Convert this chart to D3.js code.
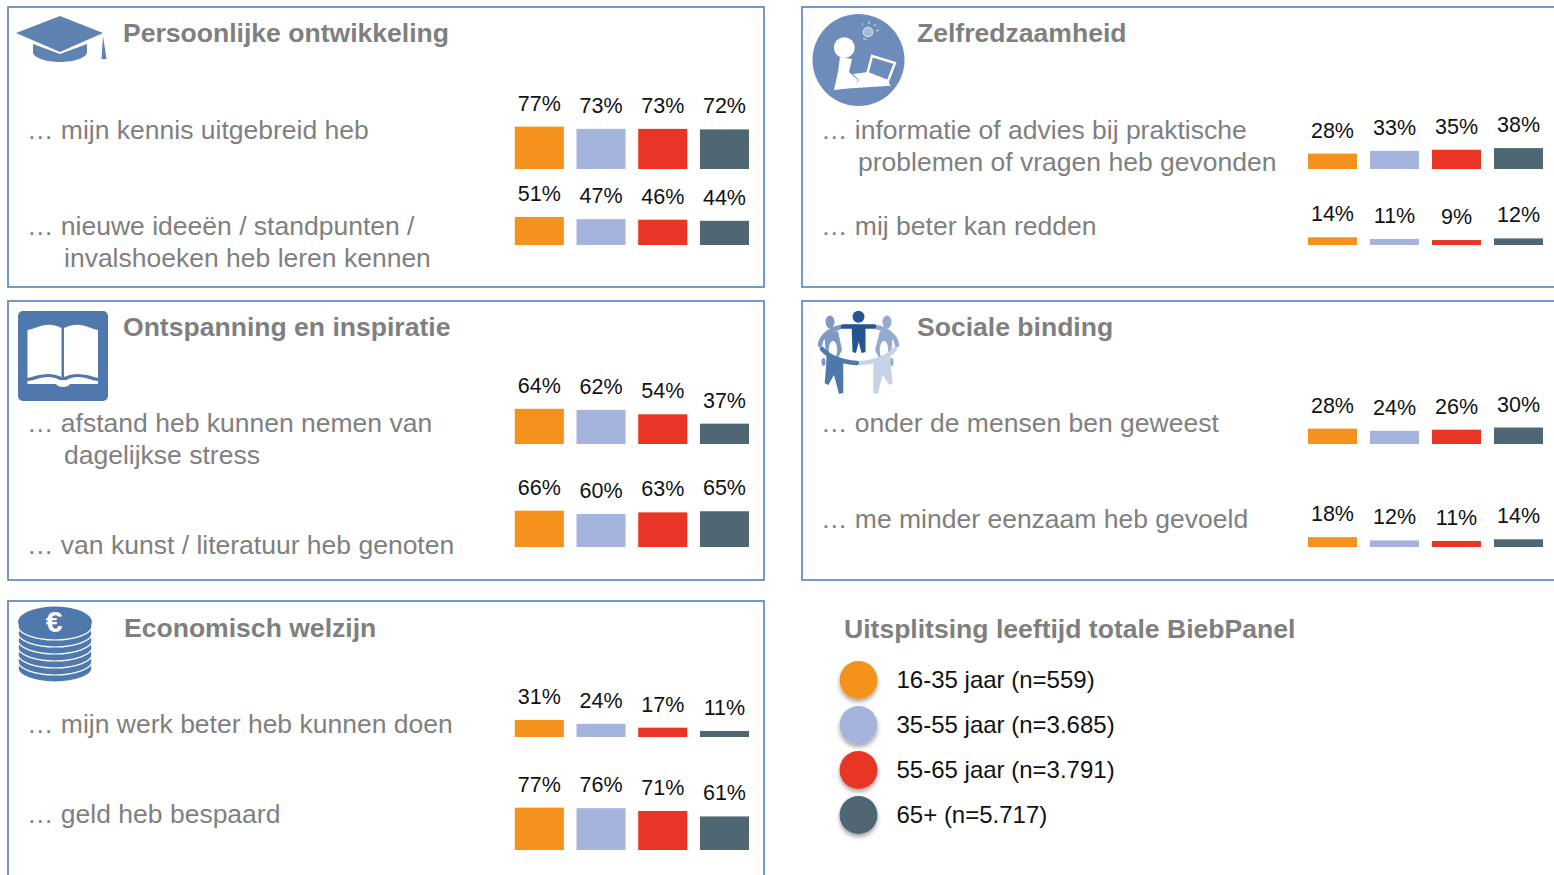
<!DOCTYPE html>
<html>
<head>
<meta charset="utf-8">
<script src="https://cdn.jsdelivr.net/npm/d3@7"></script>
<style>
html, body { margin:0; padding:0; background:#fff; overflow:hidden; }
text { font-family:"Liberation Sans", Arial, sans-serif; }
</style>
</head>
<body>
<script>
// age groups + colours
const ageGroups = ["16-35 jaar", "35-55 jaar", "55-65 jaar", "65+"];
const legendLabels = ["16-35 jaar (n=559)", "35-55 jaar (n=3.685)", "55-65 jaar (n=3.791)", "65+ (n=5.717)"];
const ageColors = ["#f5921e", "#a5b4dc", "#e93526", "#4f6673"];

const titles = ["Persoonlijke ontwikkeling", "Ontspanning en inspiratie", "Economisch welzijn", "Zelfredzaamheid", "Sociale binding"];
const legendTitle = "Uitsplitsing leeftijd totale BiebPanel";

// values per row, in order of age group
const kennis = [77, 73, 73, 72];
const ideeen = [51, 47, 46, 44];
const stress = [64, 62, 54, 37];
const kunst = [66, 60, 63, 65];
const werk = [31, 24, 17, 11];
const geld = [77, 76, 71, 61];
const advies = [28, 33, 35, 38];
const redden = [14, 11, 9, 12];
const mensen = [28, 24, 26, 30];
const eenzaam = [18, 12, 11, 14];

const rowTexts = [
    ["… mijn kennis uitgebreid heb"],
    ["… nieuwe ideeën / standpunten /", "invalshoeken heb leren kennen"],
    ["… afstand heb kunnen nemen van", "dagelijkse stress"],
    ["… van kunst / literatuur heb genoten"],
    ["… mijn werk beter heb kunnen doen"],
    ["… geld heb bespaard"],
    ["… informatie of advies bij praktische", "problemen of vragen heb gevonden"],
    ["… mij beter kan redden"],
    ["… onder de mensen ben geweest"],
    ["… me minder eenzaam heb gevoeld"]
];
const rowValues = [kennis, ideeen, stress, kunst, werk, geld, advies, redden, mensen, eenzaam];

const width = 1554, height = 875;
const svg = d3.select("body").append("svg").attr("width", width).attr("height", height).style("display", "block");

const defs = svg.append("defs");
const shadow = defs.append("filter").attr("id", "shadow").attr("x", "-30%").attr("y", "-30%").attr("width", "160%").attr("height", "170%");
shadow.append("feDropShadow").attr("dx", 0).attr("dy", 3).attr("stdDeviation", 2).attr("flood-color", "#000").attr("flood-opacity", 0.35);

// layout: each box, title position
const boxes = [
    {x:8, y:7, w:756, h:280, titleX:123, titleY:42},
    {x:8, y:301, w:756, h:279, titleX:123, titleY:336},
    {x:8, y:601, w:756, h:290, titleX:124, titleY:637},
    {x:802, y:7, w:770, h:280, titleX:917, titleY:42},
    {x:802, y:301, w:770, h:279, titleX:917, titleY:336}
];
boxes.forEach((b, i) => {
    svg.append("rect").attr("x", b.x).attr("y", b.y).attr("width", b.w).attr("height", b.h)
        .attr("fill", "none").attr("stroke", "#4f81bd").attr("stroke-width", 1.6);
    svg.append("text").attr("x", b.titleX).attr("y", b.titleY)
        .attr("font-size", 26.55).attr("font-weight", "bold").attr("fill", "#7f7f7f").text(titles[i]);
});

// one scale per column of boxes, one shared height scale
const xLeft = d3.scaleBand().domain(ageGroups).range([514.8, 749]).paddingInner(0.205);
const xRight = d3.scaleBand().domain(ageGroups).range([1308, 1543]).paddingInner(0.21);
const barLength = d3.scaleLinear().domain([0, 100]).range([0, 55]);

// baseline of the bars and text lines per row
const rowLayout = [
    {base:169, textX:27, indentX:64, lines:[139]},
    {base:245, textX:27, indentX:64, lines:[235, 267]},
    {base:444, textX:27, indentX:64, lines:[432, 464]},
    {base:547, textX:27, indentX:64, lines:[554]},
    {base:737, textX:27, indentX:64, lines:[733]},
    {base:850, textX:27, indentX:64, lines:[823]},
    {base:169, textX:821, indentX:858, lines:[139, 171]},
    {base:245, textX:821, indentX:858, lines:[235]},
    {base:444, textX:821, indentX:858, lines:[432]},
    {base:547, textX:821, indentX:858, lines:[528]}
];

rowValues.forEach((values, r) => {
    const lay = rowLayout[r];
    const x = r < 6 ? xLeft : xRight;
    const g = svg.append("g");

    g.selectAll("rect").data(values).enter().append("rect")
        .attr("x", (d, i) => x(ageGroups[i]))
        .attr("y", d => lay.base - barLength(d))
        .attr("width", x.bandwidth())
        .attr("height", d => barLength(d))
        .attr("fill", (d, i) => ageColors[i]);

    g.selectAll("text").data(values).enter().append("text")
        .attr("x", (d, i) => x(ageGroups[i]) + x.bandwidth() / 2)
        .attr("y", d => lay.base - barLength(d) - 16)
        .attr("text-anchor", "middle")
        .attr("font-size", 21.5)
        .attr("fill", "#111")
        .text(d => d + "%");

    rowTexts[r].forEach((line, j) => {
        svg.append("text").attr("x", j == 0 ? lay.textX : lay.indentX).attr("y", lay.lines[j])
            .attr("font-size", 26.5).attr("fill", "#808080").text(line);
    });
});

// legend
svg.append("text").attr("x", 844).attr("y", 638).attr("font-size", 26.55).attr("font-weight", "bold")
    .attr("fill", "#7f7f7f").text(legendTitle);
const legendY = d3.scalePoint().domain(ageGroups).range([680, 815]);
svg.selectAll(".legend-dot").data(ageGroups).enter().append("circle")
    .attr("class", "legend-dot")
    .attr("cx", 858.5).attr("cy", d => legendY(d)).attr("r", 19)
    .attr("fill", (d, i) => ageColors[i])
    .attr("filter", "url(#shadow)");
svg.selectAll(".legend-label").data(legendLabels).enter().append("text")
    .attr("class", "legend-label")
    .attr("x", 896.5).attr("y", (d, i) => legendY(ageGroups[i]) + 8)
    .attr("font-size", 24).attr("fill", "#111").text(d => d);

// icons
// graduation cap
const cap = svg.append("g").attr("fill", "#5e83b1");
cap.append("path").attr("d", "M33,44 L33,52 C33,58 47,62 60,62 C73,62 87,58 87,52 L87,44 L60,54 Z");
cap.append("path").attr("d", "M16,33 L60,16 L103,33 L60,52 Z");
cap.append("path").attr("d", "M103,36 L106.5,59 L101.5,59 Z");

// open book
const book = svg.append("g");
book.append("rect").attr("x", 18).attr("y", 311).attr("width", 90).attr("height", 90).attr("rx", 5).attr("fill", "#4f79ad");
book.append("path").attr("fill", "#fff")
    .attr("d", "M27.5,330 C36,329 46,320 61.5,328 L61.5,377 C50,371 38,375 27.5,378 Z M64,328 C80,320 90,329 98,330 L98,378 C88,375 76,371 64,377 Z");
book.append("path").attr("fill", "#fff")
    .attr("d", "M27.5,381 C37,380 48,373 60,380 L66,380 C78,373 89,380 98,381 L98,384 L70,384 C68,388 58,388 56,384 L27.5,384 Z");

// coins
const coinYs = d3.range(7).map(i => 668 - i * 7);
const coins = svg.append("g");
coins.selectAll("ellipse").data(coinYs).enter().append("ellipse")
    .attr("cx", 55).attr("cy", d => d).attr("rx", 37).attr("ry", 14)
    .attr("fill", "#4f79ad").attr("stroke", "#fff").attr("stroke-width", 1.2);
coins.append("ellipse").attr("cx", 55).attr("cy", 622).attr("rx", 37).attr("ry", 15.5).attr("fill", "#4f79ad");
coins.append("text").attr("x", 54).attr("y", 632).attr("text-anchor", "middle")
    .attr("font-size", 30).attr("font-weight", "bold").attr("fill", "#fff").text("€");

// person with laptop
const self = svg.append("g");
self.append("circle").attr("cx", 858.5).attr("cy", 60).attr("r", 46).attr("fill", "#6e8cba");
self.append("circle").attr("cx", 844.3).attr("cy", 47.7).attr("r", 10.4).attr("fill", "#fff");
self.append("path").attr("fill", "#fff").attr("d", "M840,57 L852,59 L849,72 L858,80 L853,88 L834,90 L838,72 Z");
self.append("path").attr("fill", "#fff").attr("d", "M853,74 L868,72 L888,80.7 L890.7,85.7 L851.3,88.3 L859,80 Z");
self.append("path").attr("fill", "#6e8cba").attr("stroke", "#fff").attr("stroke-width", 2.4)
    .attr("d", "M872,56 L895,63 L888,81 L867.5,73 Z");
self.append("circle").attr("cx", 868).attr("cy", 32).attr("r", 4.8).attr("fill", "#a9bbd6").attr("stroke", "#dfe6f0");
self.append("path").attr("stroke", "#dfe6f0").attr("stroke-width", 1).attr("fill", "none")
    .attr("d", "M863,38 L867,40 M862,23 L863,25 M869,21 L869,24 M876,24 L874,26 M879,30 L876,31");

// people in a circle
const people = svg.append("g");
const ring = (d, color) => people.append("path").attr("d", d).attr("fill", "none").attr("stroke", color)
    .attr("stroke-width", 4.5).attr("stroke-linecap", "round");
// figures at the back
people.append("ellipse").attr("cx", 830).attr("cy", 322).attr("rx", 4.5).attr("ry", 6.5).attr("fill", "#7d9ac2");
people.append("ellipse").attr("cx", 887).attr("cy", 322).attr("rx", 4.5).attr("ry", 6.5).attr("fill", "#93abce");
people.append("path").attr("fill", "#7d9ac2").attr("d", "M824,333 L838,331 L842,350 L836,362 L826,355 Z");
people.append("path").attr("fill", "#93abce").attr("d", "M893,333 L880,331 L875,350 L881,362 L891,355 Z");
people.append("ellipse").attr("cx", 833).attr("cy", 350).attr("rx", 5).attr("ry", 10).attr("fill", "#fff").attr("stroke", "#7d9ac2").attr("stroke-width", 1.5);
people.append("ellipse").attr("cx", 884).attr("cy", 350).attr("rx", 5).attr("ry", 10).attr("fill", "#fff").attr("stroke", "#93abce").attr("stroke-width", 1.5);
people.append("ellipse").attr("cx", 823.5).attr("cy", 362).attr("rx", 2).attr("ry", 4).attr("fill", "#7d9ac2");
people.append("ellipse").attr("cx", 891.5).attr("cy", 362).attr("rx", 2).attr("ry", 4).attr("fill", "#93abce");
ring("M841,327 C830,329 821,336 820,345", "#7d9ac2");
ring("M876,327 C887,329 896,336 897,345", "#93abce");
// top figure
people.append("circle").attr("cx", 858.5).attr("cy", 316.7).attr("r", 6).attr("fill", "#24558f");
ring("M843,326.5 L874,326.5", "#24558f");
people.append("path").attr("fill", "#24558f").attr("d", "M851.7,327 L865.5,327 L865.5,352 L861.5,353 L858.7,342 L856,353 L852.5,352 Z");
// figures in front
people.append("path").attr("fill", "#4f79ad").attr("d", "M826.7,352 L843.3,361 L843.3,393 L839,394 L834,375 L828.3,385 L824.7,383.3 L826,368 Z");
people.append("path").attr("fill", "#c6d3e5").attr("d", "M890,352 L873.3,361 L873.3,393 L877.7,394 L882.7,375 L889.3,385 L892.7,383.3 L891,368 Z");
ring("M822,349 C830,358 843,362 857,363", "#4f79ad");
ring("M895,349 C887,358 874,362 861,363", "#c6d3e5");
</script>
</body>
</html>
